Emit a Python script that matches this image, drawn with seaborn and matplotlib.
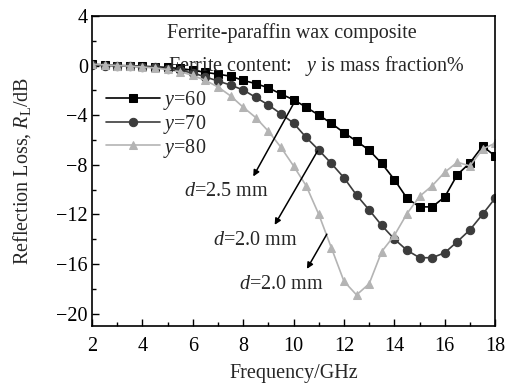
import matplotlib
matplotlib.use("Agg")
import matplotlib.pyplot as plt
import seaborn as sns
import pandas as pd
import numpy as np

freq = [2.0, 2.5, 3.0, 3.5, 4.0, 4.5, 5.0, 5.5, 6.0, 6.5, 7.0, 7.5, 8.0, 8.5, 9.0, 9.5,
        10.0, 10.5, 11.0, 11.5, 12.0, 12.5, 13.0, 13.5, 14.0, 14.5, 15.0, 15.5, 16.0,
        16.5, 17.0, 17.5, 18.0]
rl_y60 = [0.1, 0.05, 0.0, -0.02, -0.06, -0.1, -0.16, -0.24, -0.38, -0.55, -0.7, -0.86,
          -1.2, -1.46, -1.8, -2.3, -2.76, -3.36, -4.0, -4.66, -5.42, -6.1, -6.83, -7.9,
          -9.2, -10.7, -11.4, -11.4, -10.6, -8.8, -7.85, -6.5, -7.3]
rl_y70 = [0.05, 0.0, -0.03, -0.06, -0.1, -0.16, -0.26, -0.4, -0.6, -0.92, -1.25, -1.58,
          -1.97, -2.57, -3.18, -3.9, -4.65, -5.8, -6.82, -7.9, -9.05, -10.45, -11.65,
          -12.9, -14.0, -14.9, -15.5, -15.5, -15.1, -14.2, -13.25, -12.0, -10.7]
rl_y80 = [0.1, 0.05, 0.0, -0.05, -0.12, -0.2, -0.32, -0.5, -0.8, -1.2, -1.73, -2.45,
          -3.36, -4.2, -5.3, -6.6, -8.1, -9.7, -12.0, -14.7, -17.4, -18.5, -17.6, -15.0,
          -13.7, -11.95, -10.55, -9.7, -8.6, -7.8, -8.1, -6.75, -6.26]
series_labels = ["$y$=60", "$y$=70", "$y$=80"]
title1 = "Ferrite-paraffin wax composite"
title2 = "Ferrite content:   $y$ is mass fraction%"
arrow_labels = ["$d$=2.5 mm", "$d$=2.0 mm", "$d$=2.0 mm"]

sns.set_theme(style="ticks")
plt.rcParams["font.family"] = ["Liberation Serif", "DejaVu Serif"]
plt.rcParams["mathtext.fontset"] = "custom"
plt.rcParams["mathtext.rm"] = "Liberation Serif"
plt.rcParams["mathtext.it"] = "Liberation Serif:italic"
plt.rcParams["mathtext.bf"] = "Liberation Serif:bold"

FS = 14.5
fig = plt.figure(figsize=(5.11, 3.88), dpi=100)
ax = fig.add_axes([0.180, 0.160, 0.789, 0.799])

colors = ["#000000", "#3c3c3c", "#b4b4b4"]
markers = ["s", "o", "^"]
for vals, lab, c, m in zip([rl_y60, rl_y70, rl_y80], series_labels, colors, markers):
    df = pd.DataFrame({"f": freq, "rl": vals})
    sns.lineplot(data=df, x="f", y="rl", ax=ax, color=c, marker=m, markersize=6,
                 markeredgecolor=c, linewidth=1.2, label=lab)

ax.set_xlim(2, 18)
ax.set_ylim(-21, 4)
ax.set_xticks(np.arange(2, 19, 2))
ax.set_xticks(np.arange(2, 19, 1), minor=True)
ax.set_yticks(np.arange(-20, 5, 4))
ax.set_yticks(np.arange(-20, 5, 2), minor=True)
ax.set_yticklabels(["\u221220", "\u221216", "\u221212", "\u22128", "\u22124", "0", "4"])
ax.tick_params(which="both", direction="in", top=False, right=False, labelsize=FS,
               width=1.0, colors="black", pad=3)
ax.tick_params(axis="x", which="both", pad=8)
ax.tick_params(which="major", length=5)
ax.tick_params(which="minor", length=3)
for s in ax.spines.values():
    s.set_linewidth(1.2)
    s.set_color("black")

ax.set_xlabel("Frequency/GHz", fontsize=FS, labelpad=6)
ax.set_ylabel("Reflection Loss, $R_\\mathrm{L}$/dB", fontsize=FS, labelpad=17)

ax.text(9.95, 2.6, title1, fontsize=FS, ha="center", va="center")
ax.text(5.03, 0.0, title2, fontsize=FS, ha="left", va="center", clip_on=False)

leg = ax.legend(loc="upper left", bbox_to_anchor=(0.0, 0.81), frameon=False,
                fontsize=FS, handlelength=2.7, handletextpad=0.15, labelspacing=0.04,
                borderaxespad=0.3)

arrows = [((10.02, -3.0), (8.4, -8.95)), ((10.95, -6.9), (9.25, -12.85)),
          ((11.32, -13.6), (10.53, -16.4))]
label_pos = [(7.34, -10.2), (8.5, -14.1), (9.5, -17.7)]
for (start, end), lab, pos in zip(arrows, arrow_labels, label_pos):
    ax.annotate("", xy=end, xytext=start,
                arrowprops=dict(arrowstyle="-|>", color="black", lw=1.1,
                                mutation_scale=9, shrinkA=0, shrinkB=0))
    ax.text(pos[0], pos[1], lab, fontsize=FS, ha="center", va="center")

fig.savefig("out.png", dpi=100)
